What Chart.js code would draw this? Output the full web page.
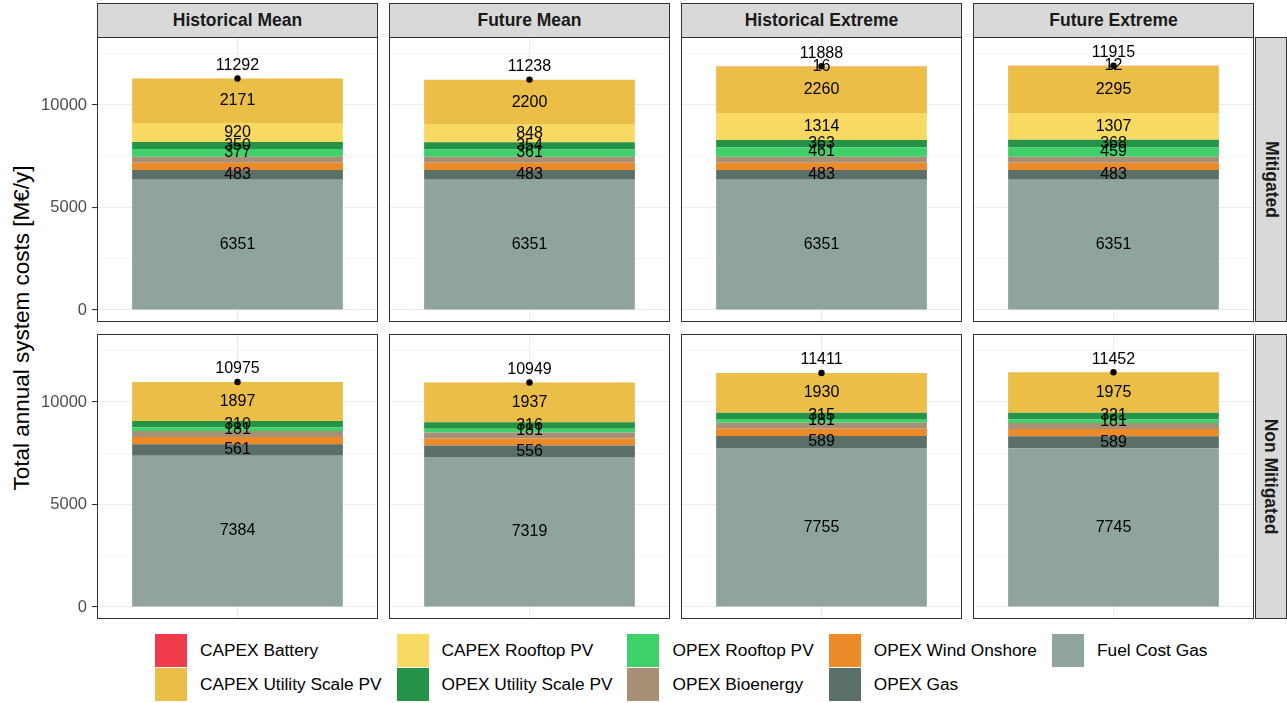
<!DOCTYPE html>
<html>
<head>
<meta charset="utf-8">
<title>Total annual system costs</title>
<script src="https://cdn.jsdelivr.net/npm/chart.js@4.4.1/dist/chart.umd.min.js"></script>
<style>
  html, body { margin: 0; padding: 0; background: #ffffff; }
  body { width: 1287px; height: 703px; position: relative; overflow: hidden;
         font-family: "Liberation Sans", Arial, sans-serif; }
  canvas { position: absolute; }
  .strip { position: absolute; box-sizing: border-box; background: #D9D9D9; border: 1px solid #333333;
           color: #1A1A1A; font-weight: bold; font-size: 17.5px;
           display: flex; align-items: center; justify-content: center; }
  .strip.side span { transform: rotate(90deg); white-space: nowrap; }
  #ytitle { position: absolute; left: 22px; top: 328px; transform: translate(-50%, -50%) rotate(-90deg);
            font-size: 22.5px; color: #000; white-space: nowrap; }
  #legend { position: absolute; left: 155px; top: 633px; display: grid;
            grid-template-rows: 34px 34px; grid-auto-flow: column; grid-auto-columns: max-content;
            column-gap: 15px; font-size: 17.3px; color: #000; }
  .item { display: flex; align-items: center; }
  .key { width: 32px; height: 33px; margin-right: 13px; }
</style>
</head>
<body>
<div id="ytitle">Total annual system costs [M€/y]</div>
<div id="legend"></div>
<script>
// Facet layout: columns are climate scenarios, rows are mitigation cases.
const scenarios = ['Historical Mean', 'Future Mean', 'Historical Extreme', 'Future Extreme'];
const mitigationCases = ['Mitigated', 'Non Mitigated'];

// Values in M€/y, one entry per panel: Mitigated (4 scenarios), then Non Mitigated (4 scenarios).
const fuelCostGas        = [6351, 6351, 6351, 6351, 7384, 7319, 7755, 7745];
const opexGas            = [483, 483, 483, 483, 561, 556, 589, 589];
const opexWindOnshore    = [350, 350, 350, 350, 350, 350, 350, 350];
const opexBioenergy      = [290, 290, 290, 290, 290, 290, 290, 290];
const opexRooftopPV      = [377, 361, 461, 459, 181, 181, 181, 181];
const opexUtilityPV      = [350, 354, 363, 368, 310, 316, 315, 321];
const capexRooftopPV     = [920, 848, 1314, 1307, 0, 0, 0, 0];
const capexUtilityPV     = [2171, 2200, 2260, 2295, 1897, 1937, 1930, 1975];
const capexBattery       = [0, 0, 16, 12, 0, 0, 0, 0];
const totals             = [11292, 11238, 11888, 11915, 10975, 10949, 11411, 11452];

// Y axis ticks (labelled) and minor grid lines.
const yTicks = [0, 5000, 10000];
const yMinorTicks = [2500, 7500, 12500];

// Stack order from bottom to top; "labelled" marks components that carry a value label.
const series = [
  { name: 'Fuel Cost Gas',          values: fuelCostGas,     labelled: true },
  { name: 'OPEX Gas',               values: opexGas,         labelled: true },
  { name: 'OPEX Wind Onshore',      values: opexWindOnshore, labelled: false },
  { name: 'OPEX Bioenergy',         values: opexBioenergy,   labelled: false },
  { name: 'OPEX Rooftop PV',        values: opexRooftopPV,   labelled: true },
  { name: 'OPEX Utility Scale PV',  values: opexUtilityPV,   labelled: true },
  { name: 'CAPEX Rooftop PV',       values: capexRooftopPV,  labelled: true },
  { name: 'CAPEX Utility Scale PV', values: capexUtilityPV,  labelled: true },
  { name: 'CAPEX Battery',          values: capexBattery,    labelled: true }
];

const colours = {
  'CAPEX Battery': '#F23B4A',
  'CAPEX Utility Scale PV': '#EBBE48',
  'CAPEX Rooftop PV': '#F8DA62',
  'OPEX Utility Scale PV': '#259347',
  'OPEX Rooftop PV': '#3ED16A',
  'OPEX Bioenergy': '#A89076',
  'OPEX Wind Onshore': '#EC8A28',
  'OPEX Gas': '#5B6F69',
  'Fuel Cost Gas': '#8FA59C'
};

// Panel geometry (pixels).
const PANEL_X = [97, 389, 681, 973];
const PANEL_Y = [37, 334];
const PANEL_W = 281;
const PANEL_H = 285;
const AXIS_W = 57;
const Y_MIN = -585;
const Y_MAX = 13317;

const FONT = '"Liberation Sans", Arial, sans-serif';

// Writes component values at the centre of each stacked segment and the total above the dot.
const valueLabels = {
  id: 'valueLabels',
  afterDatasetsDraw(chart) {
    const ctx = chart.ctx;
    ctx.save();
    ctx.fillStyle = '#000000';
    ctx.font = '16px ' + FONT;
    ctx.textAlign = 'center';
    ctx.textBaseline = 'middle';
    chart.data.datasets.forEach((ds, i) => {
      const meta = chart.getDatasetMeta(i);
      meta.data.forEach((el, j) => {
        const v = ds.data[j];
        if (ds.isTotal) {
          ctx.fillText(String(v), el.x, el.y - 13);
        } else if (ds.labelled && v > 0) {
          ctx.fillText(String(v), el.x, (el.y + el.base) / 2);
        }
      });
    });
    ctx.restore();
  }
};

// Panel outline around the plotting area.
const panelFrame = {
  id: 'panelFrame',
  afterDraw(chart) {
    const a = chart.chartArea;
    const ctx = chart.ctx;
    ctx.save();
    ctx.strokeStyle = '#333333';
    ctx.lineWidth = 1;
    ctx.strokeRect(Math.round(a.left) + 0.5, Math.round(a.top) + 0.5,
                   Math.round(a.right - a.left) - 1, Math.round(a.bottom - a.top) - 1);
    ctx.restore();
  }
};

function makePanel(row, col) {
  const idx = row * scenarios.length + col;
  const withAxis = col === 0;
  const left = PANEL_X[col] - (withAxis ? AXIS_W : 0);
  const top = PANEL_Y[row];
  const w = PANEL_W + (withAxis ? AXIS_W : 0);
  const h = PANEL_H;

  const canvas = document.createElement('canvas');
  canvas.width = w;
  canvas.height = h;
  canvas.style.left = left + 'px';
  canvas.style.top = top + 'px';
  canvas.style.width = w + 'px';
  canvas.style.height = h + 'px';
  document.body.appendChild(canvas);

  const datasets = series.map(s => ({
    type: 'bar',
    label: s.name,
    data: [s.values[idx]],
    backgroundColor: colours[s.name],
    borderWidth: 0,
    stack: 'costs',
    barPercentage: 0.75,
    categoryPercentage: 1,
    labelled: s.labelled
  }));
  datasets.push({
    type: 'line',
    label: 'Total',
    data: [totals[idx]],
    stack: 'total',
    showLine: false,
    pointRadius: 3.2,
    pointBackgroundColor: '#000000',
    pointBorderWidth: 0,
    order: -1,
    isTotal: true
  });

  const gridValues = yTicks.concat(yMinorTicks).sort((a, b) => a - b);
  const isMajor = v => yTicks.includes(v);

  new Chart(canvas, {
    type: 'bar',
    data: { labels: [scenarios[col]], datasets },
    options: {
      responsive: false,
      animation: false,
      devicePixelRatio: 1,
      layout: { padding: 0, autoPadding: false },
      plugins: { legend: { display: false }, tooltip: { enabled: false } },
      scales: {
        x: {
          stacked: true,
          offset: true,
          border: { display: false },
          grid: { offset: false, color: '#EBEBEB', lineWidth: 1.1, drawTicks: false },
          ticks: { display: false },
          afterFit: scale => { scale.paddingLeft = 0; scale.paddingRight = 0; }
        },
        y: {
          stacked: true,
          min: Y_MIN,
          max: Y_MAX,
          border: { display: false },
          afterBuildTicks: scale => { scale.ticks = gridValues.map(v => ({ value: v })); },
          afterFit: scale => {
            if (withAxis) scale.width = AXIS_W;
            scale.paddingTop = 0;
            scale.paddingBottom = 0;
          },
          grid: {
            color: c => isMajor(c.tick.value) ? '#EBEBEB' : '#F3F3F3',
            lineWidth: c => isMajor(c.tick.value) ? 1.1 : 0.8,
            drawTicks: withAxis,
            tickLength: 5,
            tickWidth: 1.1,
            tickColor: c => isMajor(c.tick.value) ? '#333333' : 'rgba(0,0,0,0)'
          },
          ticks: {
            display: withAxis,
            autoSkip: false,
            padding: 5,
            color: '#4D4D4D',
            font: { family: FONT, size: 16.5 },
            callback: v => isMajor(v) ? String(v) : ''
          }
        }
      }
    },
    plugins: [valueLabels, panelFrame]
  });
}

// Facet strips.
scenarios.forEach((name, col) => {
  const d = document.createElement('div');
  d.className = 'strip';
  d.style.left = PANEL_X[col] + 'px';
  d.style.top = '3px';
  d.style.width = PANEL_W + 'px';
  d.style.height = '35px';
  d.textContent = name;
  document.body.appendChild(d);
});
mitigationCases.forEach((name, row) => {
  const d = document.createElement('div');
  d.className = 'strip side';
  d.style.left = '1255px';
  d.style.top = PANEL_Y[row] + 'px';
  d.style.width = '32px';
  d.style.height = PANEL_H + 'px';
  const s = document.createElement('span');
  s.textContent = name;
  d.appendChild(s);
  document.body.appendChild(d);
});

for (let r = 0; r < mitigationCases.length; r++) {
  for (let c = 0; c < scenarios.length; c++) makePanel(r, c);
}

// Legend, filled column by column from the top of the stack downwards.
const legend = document.getElementById('legend');
series.slice().reverse().forEach(s => {
  const item = document.createElement('div');
  item.className = 'item';
  const key = document.createElement('div');
  key.className = 'key';
  key.style.background = colours[s.name];
  const txt = document.createElement('span');
  txt.textContent = s.name;
  item.appendChild(key);
  item.appendChild(txt);
  legend.appendChild(item);
});
</script>
</body>
</html>
